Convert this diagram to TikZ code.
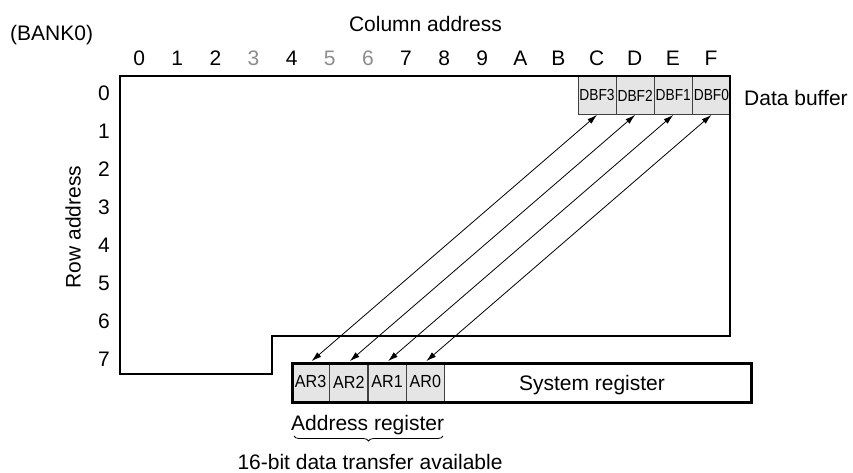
\documentclass[tikz,border=0pt]{standalone}
\usepackage{fontspec}
\setmainfont{Liberation Sans}
\usetikzlibrary{arrows.meta,decorations.pathreplacing}
\begin{document}
\begin{tikzpicture}[x=1pt,y=-1pt,
  lbl/.style={font=\fontsize{21}{25}\selectfont, inner sep=0pt},
  cell/.style={draw=black!75, line width=0.9pt, fill=black!10,
    minimum width=38.2pt, minimum height=38pt, inner sep=0pt,
    anchor=north west, font=\fontsize{16}{19}\selectfont},
  outline/.style={line width=2.6pt, line join=miter},
  xfer/.style={line width=0.8pt,
    {Latex[length=10pt,width=6pt]}-{Latex[length=10pt,width=6pt]}},
  bracestyle/.style={line width=0.8pt, decorate,
    decoration={brace, mirror, amplitude=5pt}}
]
\useasboundingbox (0,0) rectangle (853,472);

% bank title and axis labels
\node[lbl, anchor=base west] (bank) at (10,40) {(BANK0)};
\node[lbl, anchor=base] (coladdr) at (425.5,31.5) {Column address};
\node[lbl, rotate=90] (rowaddr) at (73,227) {Row address};

% column numbers
\foreach \c/\col [count=\i from 0] in {0/black,1/black,2/black,3/black!45,4/black,5/black!45,6/black!45,7/black,8/black,9/black,A/black,B/black,C/black,D/black,E/black,F/black}
  \node[lbl, anchor=base, text=\col] (col\c) at ({139.1+38.125*\i},65.5) {\c};

% row numbers
\foreach \r in {0,...,7}
  \node[lbl, anchor=base] (row\r) at (104,{100+38.1*\r}) {\r};

% data buffer cells in row 0, columns C..F
\foreach \k [count=\i from 0] in {3,2,1,0}
  \node[cell] (dbf\k) at ({577.5+38.125*\i},76) {\scalebox{0.86}[1]{DBF\k}};

% outline of the bank
\draw[outline] (120,76) -- (730,76) -- (730,336) -- (272,336) -- (272,374)
  -- (120,374) -- cycle;

\node[lbl, anchor=base west] (dbuf) at (744,105) {Data buffer};

% system register with the address register cells
\foreach \k [count=\i from 0] in {3,2,1,0}
  \node[cell, minimum height=39pt, font=\fontsize{17.5}{20}\selectfont] (ar\k)
    at ({291+38.25*\i},362) {\scalebox{0.92}[1]{AR\k}};
\node[draw, outline, minimum width=459pt, minimum height=39pt, inner sep=0pt,
  anchor=north west] (sysreg) at (291,362) {};
\node[lbl, anchor=base] (syslbl) at (592,390) {System register};

% transfers between data buffer and address register
\foreach \k in {3,2,1,0}
  \draw[xfer, shorten >=1.3pt] (dbf\k.south) -- (ar\k.north);

% address register caption and brace
\node[lbl, anchor=base west] (arlbl) at (291,430) {Address register};
\coordinate (brL) at (294,436);
\coordinate (brR) at (443,436);
\draw[bracestyle] (brL) -- (brR);
\node[lbl, anchor=base] (xferlbl) at (370,469) {16-bit data transfer available};
\end{tikzpicture}
\end{document}
